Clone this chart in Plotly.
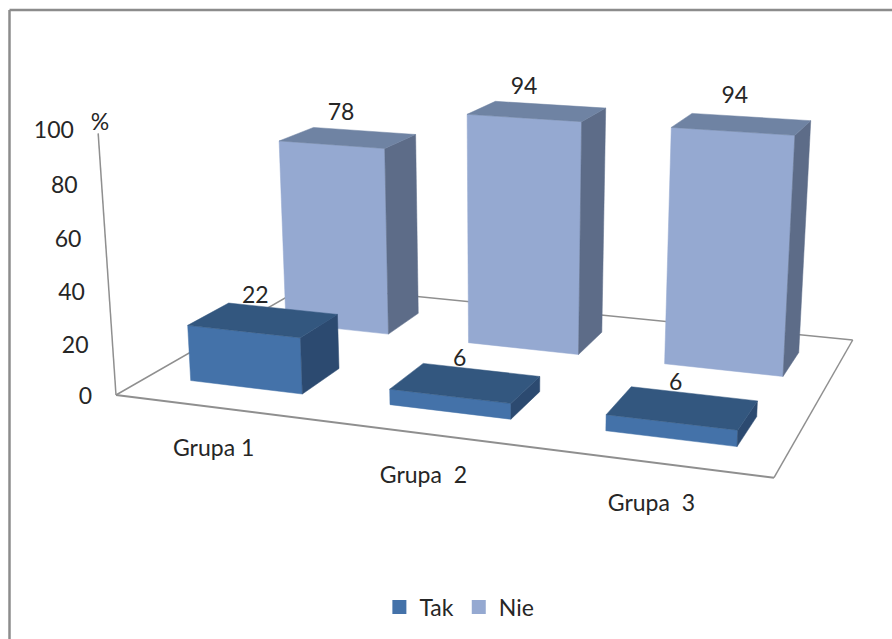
import numpy as np
import plotly.graph_objects as go

# Chart values
categories = ["Grupa 1", "Grupa\u00a0 2", "Grupa\u00a0 3"]
series_names = ["Tak", "Nie"]
tak_values = [22, 6, 6]
nie_values = [78, 94, 94]
value_ticks = [0, 20, 40, 60, 80, 100]

FONT = "Lato"
TEXT_COLOR = "#262626"
GRID_COLOR = "#8f8f8f"

# Colours per series: front, top and side face of a column
FACE_COLORS = {
    "Tak": ("#4472A9", "#33577F", "#2C4A70"),
    "Nie": ("#95A9D1", "#6F83A3", "#5D6C88"),
}

# Oblique camera: floor spanned by X (categories) and Y (series), Z is the percentage
CAM_X = np.array([463.82514, 21.63413, -0.09637])
CAM_Y = np.array([211.78174, -37.61305, 0.18174])
CAM_Z = np.array([-0.184071, -2.222210, -0.000366])
CAM_O = np.array([94.91826, 323.21305, 0.81826])

N_CAT = len(categories)
BAR_HALF_X = 0.095
BAR_HALF_Y = 0.10

# Small pixel nudges for the value labels, by row then category
LABEL_NUDGE = [[(0, 0), (2, 0), (1, 0)], [(1, 0), (-5, 0), (1, -4)]]


def project(x, y, z):
    p = CAM_O + x * CAM_X + y * CAM_Y + z * CAM_Z
    return p[0] / p[2], p[1] / p[2]


def path(points):
    xy = [project(*pt) for pt in points]
    xy.append(xy[0])
    return [q[0] for q in xy], [q[1] for q in xy]


fig = go.Figure()


def add_polygon(points, color):
    xs, ys = path(points)
    fig.add_trace(go.Scatter(x=xs, y=ys, mode="lines", fill="toself", fillcolor=color,
                             line=dict(color=color, width=0.5), hoverinfo="skip", showlegend=False))


def add_line(points, width):
    xy = [project(*pt) for pt in points]
    fig.add_trace(go.Scatter(x=[q[0] for q in xy], y=[q[1] for q in xy], mode="lines",
                             line=dict(color=GRID_COLOR, width=width), hoverinfo="skip", showlegend=False))


def add_column(cat, row, value, series):
    front, top, side = FACE_COLORS[series]
    cx = (cat + 0.5) / N_CAT
    cy = (row + 0.5) / 2
    x0, x1 = cx - BAR_HALF_X, cx + BAR_HALF_X
    y0, y1 = cy - BAR_HALF_Y, cy + BAR_HALF_Y
    add_polygon([(x0, y0, 0), (x1, y0, 0), (x1, y0, value), (x0, y0, value)], front)
    add_polygon([(x1, y0, 0), (x1, y1, 0), (x1, y1, value), (x1, y0, value)], side)
    add_polygon([(x0, y0, value), (x1, y0, value), (x1, y1, value), (x0, y1, value)], top)


def add_text(px, py, text, size=23, position="middle center"):
    fig.add_trace(go.Scatter(x=[px], y=[py], mode="text", text=[text], textposition=position,
                             textfont=dict(family=FONT, size=size, color=TEXT_COLOR),
                             hoverinfo="skip", showlegend=False))


# Floor outline and the value axis
add_line([(1, 1, 0), (0, 1, 0), (0, 0, 0)], 1.5)
add_line([(1, 1, 0), (1, 0, 0)], 1.5)
add_line([(0, 0, 0), (1, 0, 0)], 2)
add_line([(0, 0, 0), (0, 0, 98.5)], 1.5)

# Back row first so the front row overlaps it
for i, v in enumerate(nie_values):
    add_column(i, 1, v, "Nie")
for i, v in enumerate(tak_values):
    add_column(i, 0, v, "Tak")

# Value axis labels
for t in value_ticks:
    px, py = project(0, 0, t)
    add_text(px - 24, py + 3, str(t), position="middle left")
px, py = project(0, 0, 100)
add_text(px + 2, py - 5, "%")

# Category labels below the front edge
for i, c in enumerate(categories):
    px, py = project((i + 0.5) / N_CAT, 0, 0)
    add_text(px - 1, py + 43, c, size=23)

# Value labels above each column
for row, vals in enumerate([tak_values, nie_values]):
    for i, v in enumerate(vals):
        px, py = project((i + 0.5) / N_CAT, (row + 0.5) / 2, v)
        nx, ny = LABEL_NUDGE[row][i]
        add_text(px - 8 + nx, py - 23 + ny, str(v))

# Legend entries
for name in series_names:
    fig.add_trace(go.Scatter(x=[None], y=[None], mode="markers", name=name,
                             marker=dict(symbol="square", size=14, color=FACE_COLORS[name][0])))

fig.update_layout(
    width=892, height=639, margin=dict(l=0, r=0, t=0, b=0),
    paper_bgcolor="white", plot_bgcolor="white",
    xaxis=dict(range=[0, 892], visible=False, fixedrange=True),
    yaxis=dict(range=[639, 0], visible=False, fixedrange=True),
    legend=dict(orientation="h", x=0.515, xanchor="center", y=0.05, yanchor="middle",
                font=dict(family=FONT, size=23, color=TEXT_COLOR), itemwidth=30),
    shapes=[
        dict(type="line", xref="x", yref="y", x0=9.5, x1=892, y0=10, y1=10,
             line=dict(color="#8c8c8c", width=2.5)),
        dict(type="line", xref="x", yref="y", x0=9.5, x1=9.5, y0=10, y1=639,
             line=dict(color="#8c8c8c", width=2.5)),
    ],
)

fig.write_html("out.html")
